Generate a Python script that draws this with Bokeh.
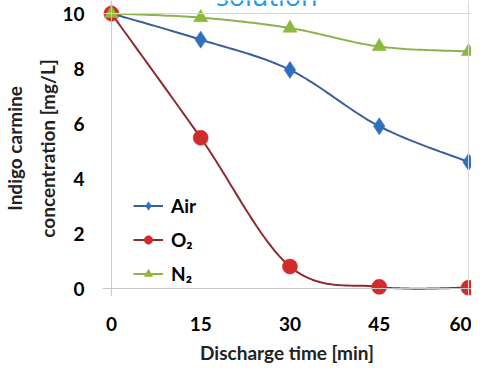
import numpy as np
from bokeh.plotting import figure
from bokeh.models import Range1d, Span, Legend, LegendItem, FixedTicker, Label
from bokeh.embed import file_html
from bokeh.resources import INLINE

# ---- data ----
time_min = [0, 15, 30, 45, 60]
air = [10.0, 9.05, 7.95, 5.9, 4.6]
o2 = [10.0, 5.48, 0.8, 0.06, 0.03]
n2 = [10.0, 9.85, 9.47, 8.8, 8.62]
x_ticks = [0, 15, 30, 45, 60]
y_ticks = [0, 2, 4, 6, 8, 10]

def smooth(xs, ys, n=24):
    """Catmull-Rom rendering of a smoothed line through the data points."""
    xs = np.asarray(xs, float); ys = np.asarray(ys, float)
    px = np.concatenate([[xs[0]], xs, [xs[-1]]])
    py = np.concatenate([[ys[0]], ys, [ys[-1]]])
    ox, oy = [], []
    for i in range(1, len(px) - 2):
        t = np.linspace(0, 1, n, endpoint=(i == len(px) - 3))
        for P, out in ((px, ox), (py, oy)):
            p0, p1, p2, p3 = P[i - 1], P[i], P[i + 1], P[i + 2]
            m1 = (p2 - p0) / 2.0
            m2 = (p3 - p1) / 2.0
            h00 = 2 * t**3 - 3 * t**2 + 1
            h10 = t**3 - 2 * t**2 + t
            h01 = -2 * t**3 + 3 * t**2
            h11 = t**3 - t**2
            out.extend(h00 * p1 + h10 * m1 + h01 * p2 + h11 * m2)
    return ox, oy

FONT = "Lato"

p = figure(width=471, height=366, output_backend="svg", toolbar_location=None,
           x_range=Range1d(-1.5, 60.5), y_range=Range1d(-0.29, 10.473),
           min_border_left=102, min_border_right=0, min_border_top=0,
           min_border_bottom=60)
p.outline_line_color = None
p.xgrid.visible = False
p.ygrid.visible = False
p.background_fill_color = "white"

# axes
p.xaxis.ticker = FixedTicker(ticks=x_ticks)
p.yaxis.ticker = FixedTicker(ticks=y_ticks)
for ax in (p.xaxis[0], p.yaxis[0]):
    ax.axis_line_color = None
    ax.major_tick_line_color = None
    ax.minor_tick_line_color = None
    ax.major_label_text_font = FONT
    ax.major_label_text_font_style = "bold"
    ax.major_label_text_font_size = "19px"
    ax.major_label_text_color = "black"
    ax.axis_label_text_font = FONT
    ax.axis_label_text_font_style = "bold"
    ax.axis_label_text_color = "#222222"
p.xaxis.major_label_text_line_height = 1.0
p.xaxis.major_label_standoff = 14
p.yaxis.major_label_standoff = 12
p.xaxis.axis_label = "Discharge time [min]"
p.xaxis.axis_label_text_font_size = "19px"
p.xaxis.axis_label_text_line_height = 1.0
p.xaxis.axis_label_standoff = 7
p.yaxis.axis_label = "Indigo carmine\nconcentration [mg/L]"
p.yaxis.axis_label_text_font_size = "19px"
p.yaxis.axis_label_text_line_height = 1.45
p.yaxis.axis_label_standoff = 0

# plot-area borders / axis lines
for loc, col in ((0, "#c8c8c8"), (60, "#d8d8d8")):
    p.add_layout(Span(location=loc, dimension="height", line_color=col, line_width=1))
for loc, col in ((0, "#c8c8c8"), (10, "#d8d8d8")):
    p.add_layout(Span(location=loc, dimension="width", line_color=col, line_width=1))

# series
series = [
    ("Air", air, "#3b5f98", "#2f6fbf", "diamond", 17),
    ("O\u2082", o2, "#8e2a30", "#d22b2b", "circle", 15),
    ("N\u2082", n2, "#8fb04e", "#8db83e", "triangle", 14),
]
items = []
for name, ys, lc, mc, mk, sz in series:
    sx, sy = smooth(time_min, ys)
    r1 = p.line(sx, sy, line_color=lc, line_width=2)
    r2 = p.scatter(time_min, ys, marker=mk, size=sz, fill_color=mc,
                   line_color=mc, line_alpha=0.6)
    items.append(LegendItem(label=name, renderers=[r1, r2]))

legend = Legend(items=items, location=(31, 11), padding=0, margin=0,
                spacing=11, glyph_width=30, glyph_height=21, label_height=21,
                label_standoff=8, label_text_font=FONT,
                label_text_font_style="bold", label_text_font_size="19px",
                label_text_color="black", background_fill_alpha=0,
                border_line_color=None)
p.add_layout(legend)

# partially visible title above the chart
p.add_layout(Label(x=26.1, y=10.64, text="solution", text_align="center",
                   text_baseline="alphabetic", text_font="Open Sans",
                   text_font_size="27px", text_color="#1c98f0"))

open("out.html", "w").write(file_html(p, INLINE))
